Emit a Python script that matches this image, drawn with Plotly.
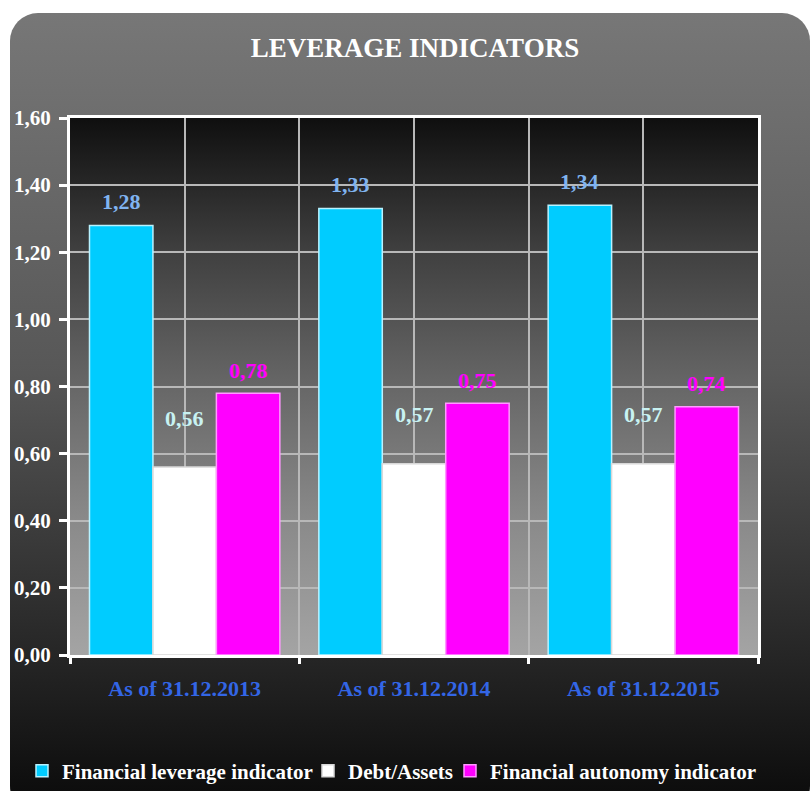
import base64
import plotly.graph_objects as go

# ---------------- data ----------------
categories = ["As of 31.12.2013", "As of 31.12.2014", "As of 31.12.2015"]
series_names = ["Financial leverage indicator", "Debt/Assets", "Financial autonomy indicator"]
leverage = [1.28, 1.33, 1.34]
debt_assets = [0.56, 0.57, 0.57]
autonomy = [0.78, 0.75, 0.74]
y_tick_values = [0.0, 0.2, 0.4, 0.6, 0.8, 1.0, 1.2, 1.4, 1.6]

# ---------------- styles ----------------
W, H = 810, 791
ML, MR, MT, MB = 70, 52, 118, 136
FONT = "Liberation Serif"
bar_colors = ["#00CCFF", "#FFFFFF", "#FF00FF"]
bar_lines = ["#B8F2FF", "#D8D8D8", "#FF99FF"]
label_colors = ["#80B4F0", "#C8F2F2", "#FF00FF"]
label_shift = [24, 49, 23]
legend_left_px = [22, 308, 450]
BARGAP = 0.17

series_values = [leverage, debt_assets, autonomy]
xpos = list(range(len(categories)))


def svg_uri(svg):
    return "data:image/svg+xml;base64," + base64.b64encode(svg.encode()).decode()


outer_svg = f"""<svg xmlns='http://www.w3.org/2000/svg' width='{W}' height='{H}' viewBox='0 0 {W} {H}' preserveAspectRatio='none'>
<defs><linearGradient id='g' x1='0' y1='0' x2='0' y2='1'>
<stop offset='0' stop-color='#777777'/><stop offset='0.45' stop-color='#575757'/>
<stop offset='0.8' stop-color='#262626'/><stop offset='1' stop-color='#090909'/>
</linearGradient></defs>
<rect x='10' y='13' width='{W - 10}' height='{H + 10}' rx='28' ry='28' fill='url(#g)'/>
</svg>"""

plot_svg = """<svg xmlns='http://www.w3.org/2000/svg' width='100' height='100' viewBox='0 0 100 100' preserveAspectRatio='none'>
<defs><linearGradient id='p' x1='0' y1='0' x2='0' y2='1'>
<stop offset='0' stop-color='#0f0f0f'/><stop offset='0.25' stop-color='#404040'/>
<stop offset='0.5' stop-color='#676767'/><stop offset='0.75' stop-color='#8a8a8a'/>
<stop offset='1' stop-color='#a4a4a4'/>
</linearGradient></defs>
<rect x='0' y='0' width='100' height='100' fill='url(#p)'/>
</svg>"""

pw = W - ML - MR
ph = H - MT - MB

legend_ids = ["legend", "legend2", "legend3"]

fig = go.Figure()
for name, vals, c, lc, lg in zip(series_names, series_values, bar_colors, bar_lines, legend_ids):
    fig.add_trace(go.Bar(
        x=xpos, y=vals, name=name, legend=lg,
        marker=dict(color=c, line=dict(color=lc, width=1.5)),
        hoverinfo="skip",
    ))

# data labels
bw = (1 - BARGAP) / len(series_values)
annotations = []
for si, vals in enumerate(series_values):
    off = (si - (len(series_values) - 1) / 2) * bw
    for xi, v in zip(xpos, vals):
        annotations.append(dict(
            x=xi + off, y=v, xref="x", yref="y",
            text=f"{v:.2f}".replace(".", ","),
            showarrow=False, yshift=label_shift[si],
            font=dict(family=FONT, size=22, color=label_colors[si], weight="bold"),
        ))

legend_style = dict(orientation="h", xref="container", yref="container",
                    xanchor="left", y=1 - 771 / H, yanchor="middle",
                    font=dict(family=FONT, size=21, color="white", weight="bold"),
                    bgcolor="rgba(0,0,0,0)", itemwidth=30)
legends = {}
for lg, lx in zip(legend_ids, legend_left_px):
    legends[lg] = dict(legend_style, x=lx / W)

grid_col = "#B8B8B8"
fig.update_layout(
    width=W, height=H,
    margin=dict(l=ML, r=MR, t=MT, b=MB, pad=0),
    paper_bgcolor="white",
    plot_bgcolor="rgba(0,0,0,0)",
    separators=",.",
    barmode="group", bargap=BARGAP, bargroupgap=0,
    title=dict(text="LEVERAGE INDICATORS", x=415 / W, xref="container", xanchor="center",
               y=1 - 48 / H, yref="container", yanchor="middle",
               font=dict(family=FONT, size=27, color="white", weight="bold")),
    showlegend=True,
    xaxis=dict(
        range=[-0.5, len(categories) - 0.5],
        tickmode="array", tickvals=xpos, ticktext=categories,
        ticks="", showgrid=True, gridcolor=grid_col, gridwidth=1.5,
        tickfont=dict(family=FONT, size=22, color="#3366E6", weight="bold"),
        showline=True, linecolor="white", linewidth=3, mirror=True,
        ticklabelstandoff=12,
        minor=dict(tickmode="array", tickvals=[i - 0.5 for i in range(len(categories) + 1)],
                   ticks="outside", ticklen=6, tickwidth=3, tickcolor="white",
                   showgrid=True, gridcolor=grid_col, gridwidth=1.5),
        zeroline=False, fixedrange=True,
    ),
    yaxis=dict(
        range=[0, 1.6], tickmode="array", tickvals=y_tick_values, tickformat=".2f",
        ticks="outside", ticklen=8, tickwidth=3, tickcolor="white",
        showgrid=True, gridcolor=grid_col, gridwidth=1.5,
        tickfont=dict(family=FONT, size=21, color="white", weight="bold"),
        showline=True, linecolor="white", linewidth=3, mirror=True,
        ticklabelstandoff=4,
        zeroline=False, fixedrange=True,
    ),
    annotations=annotations,
    images=[
        dict(source=svg_uri(outer_svg), xref="paper", yref="paper",
             x=-ML / pw, y=1 + MT / ph, sizex=W / pw, sizey=H / ph,
             xanchor="left", yanchor="top", sizing="stretch", layer="below"),
        dict(source=svg_uri(plot_svg), xref="paper", yref="paper",
             x=0, y=1, sizex=1, sizey=1,
             xanchor="left", yanchor="top", sizing="stretch", layer="below"),
    ],
    **legends,
)

fig.write_html("out.html")
